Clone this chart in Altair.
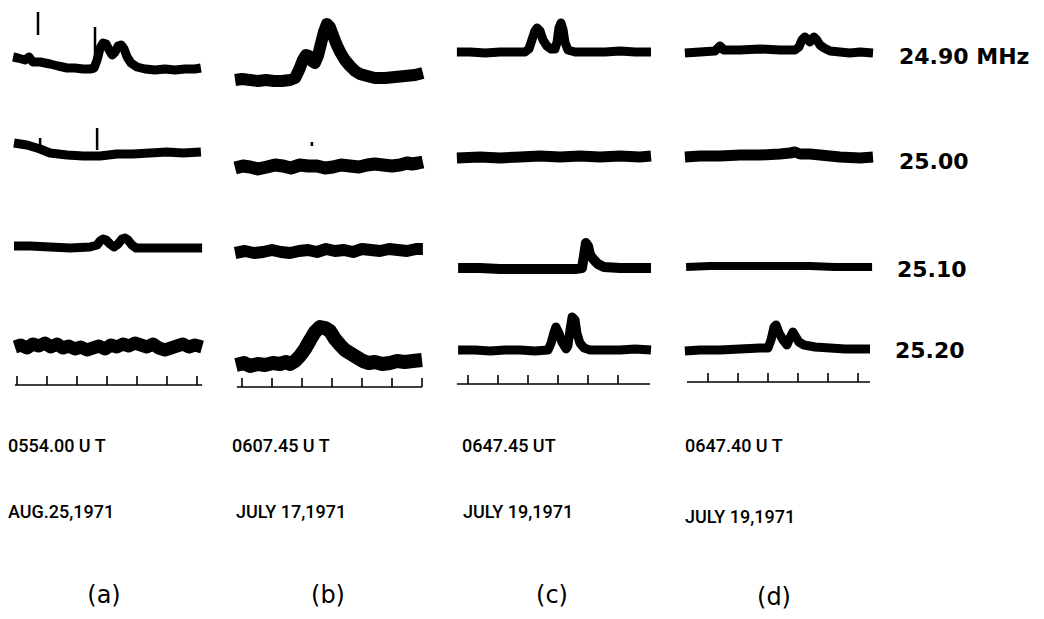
import altair as alt
import pandas as pd

# ---------------- data ----------------
# sweep time in seconds from the first time mark, deflection in record units (up = positive)
PANELS = ["a", "b", "c", "d"]
FREQS = ["24.90", "25.00", "25.10", "25.20"]
FREQ_LABELS = ["24.90 MHz", "25.00", "25.10", "25.20"]
TIME_LABELS = ["0554.00 U T", "0607.45 U T", "0647.45 UT", "0647.40 U T"]
DATE_LABELS = ["AUG.25,1971", "JULY 17,1971", "JULY 19,1971", "JULY 19,1971"]
PANEL_LABELS = ["(a)", "(b)", "(c)", "(d)"]

T_A1 = [-1.3, 0.3, 2.7, 4.0, 5.3, 7.7, 11, 13.7, 16.7, 19.3, 22, 24.3, 25.7, 26.7, 27.7, 28.7, 29.7, 30.7, 31.7, 32.7, 33.7, 34.7, 35.7, 36.7, 38, 40, 42.7, 46, 49.3, 52.7, 56, 59.3, 61.3]
V_A1 = [13, 12, 10, 13, 8, 8, 6, 4, 2, 2, 1, 1, 2, 10, 22, 27, 26, 20, 15, 18, 24, 25, 21, 13, 7, 3, 1, 0, 1, 0, 1, 1, 2]
T_B1 = [-2.3, 0, 2.7, 5.3, 8, 10.7, 13.3, 16, 17.7, 19, 20.3, 21.3, 22.3, 23.3, 24.3, 25.3, 26.3, 27.3, 28.3, 29.3, 30.3, 31.3, 32.7, 34.3, 36, 37.7, 39.3, 41.7, 44.3, 47.7, 51, 54.3, 57.7, 60.3]
V_B1 = [-10, -9, -10, -11, -10, -11, -11, -10, -8, 0, 10, 15, 14, 9, 7, 14, 26, 38, 46, 43, 35, 27, 18, 10, 4, -1, -4, -6, -8, -8, -7, -6, -5, -3]
T_C1 = [-3.7, 0.7, 5.7, 10.7, 15.7, 19, 20.3, 21.3, 22.3, 23, 24, 25, 26.3, 27.7, 29, 29.7, 30.3, 31, 31.7, 32.3, 33.3, 35.7, 40.7, 45.7, 50.7, 55.7, 61]
V_C1 = [18, 18, 17, 18, 18, 18, 21, 30, 39, 42, 39, 30, 24, 21, 21, 28, 42, 47, 40, 28, 20, 18, 18, 18, 19, 18, 18]
T_D1 = [-7.7, -2.7, 2.3, 4, 5.3, 10.7, 17.3, 24, 29, 30.3, 31.3, 32.3, 33.3, 34, 34.7, 35.3, 36.3, 37.3, 38.7, 40.7, 44, 47.3, 50.7, 55]
V_D1 = [17, 18, 19, 24, 20, 20, 21, 20, 20, 23, 30, 33, 30, 28, 31, 33, 30, 25, 22, 19, 18, 17, 18, 17]

T_A2 = [-1, 3.3, 7.7, 11, 16.7, 22, 27.7, 33.3, 38.7, 44.3, 50, 55.3, 61.3]
V_A2 = [22, 20, 16, 12, 10, 9, 9, 11, 11, 12, 13, 12, 13]
T_B2 = [-2.3, 0.3, 2.7, 5.3, 8.3, 11, 13.7, 16.3, 19.3, 22, 25, 27.7, 30.3, 33, 36, 39, 41.7, 44.3, 47, 50, 52.7, 55, 56.7, 58.7, 60.3]
V_B2 = [-3, -1, -2, -4, -2, 0, -1, -3, 0, -1, -1, -3, -2, 0, -1, -2, 0, 1, 0, -1, 0, 2, 1, 2, 3]
T_C2 = [-3.7, 4, 10.7, 17.3, 24, 30.7, 37.3, 44, 50.7, 57.3, 61]
V_C2 = [7, 8, 7, 8, 9, 8, 9, 8, 9, 8, 9]
T_D2 = [-7.7, -2.7, 4, 10.7, 17.3, 24, 27.3, 29, 30.7, 34, 37.3, 44, 50.7, 55]
V_D2 = [8, 9, 9, 10, 10, 11, 12, 13, 11, 11, 10, 8, 7, 8]

T_A3 = [-1, 4.3, 11, 17.7, 24.3, 26.7, 27.7, 28.7, 29.7, 31, 32.3, 33.7, 35, 36, 37, 38.3, 39.7, 44.3, 51, 57.7, 61.7]
V_A3 = [24, 24, 23, 22, 23, 25, 29, 31, 30, 26, 23, 26, 31, 32, 30, 25, 22, 22, 22, 22, 22]
T_B3 = [-2.3, 1, 4, 7, 10, 13, 16, 19, 22, 25, 28, 31, 34, 37, 40, 43, 46, 49, 52, 55, 58, 60.3]
V_B3 = [17, 19, 17, 18, 20, 18, 17, 19, 20, 18, 21, 19, 20, 18, 21, 20, 19, 21, 20, 19, 21, 21]
T_C3 = [-3.3, 4, 10.7, 17.3, 24, 30.7, 35.7, 38, 38.7, 39.3, 40, 40.7, 42, 43.3, 45.3, 50.7, 55.7, 61]
V_C3 = [2, 2, 1, 1, 1, 1, 1, 2, 15, 27, 24, 15, 10, 6, 3, 2, 2, 2]
T_D3 = [-7.3, 0.7, 9, 17.3, 25.7, 34, 42.3, 50.7, 54.7]
V_D3 = [3, 4, 4, 4, 4, 4, 3, 3, 3]

T_A4 = [-0.7, 1.3, 3.3, 5.3, 7.3, 9.3, 11.3, 13.3, 15.3, 17.3, 19.3, 21.3, 23.3, 25.3, 27.3, 29.3, 31.3, 33.3, 35.3, 37.3, 39.3, 41.3, 43.3, 45.3, 47.3, 49.3, 51.3, 53.3, 55.3, 57.3, 59.3, 61.7]
V_A4 = [13, 15, 12, 16, 14, 17, 13, 16, 12, 14, 11, 13, 10, 12, 14, 11, 15, 13, 16, 14, 17, 15, 13, 16, 12, 10, 12, 14, 16, 13, 15, 13]
T_B4 = [-2, 0.7, 2.7, 5.3, 7.7, 10.3, 12.7, 14.7, 16, 17.7, 19.3, 21, 22.7, 24.3, 26, 27.7, 29.3, 31, 32.7, 34.3, 37, 40.3, 42.3, 44.3, 46.7, 49.3, 51.7, 54.3, 57, 60]
V_B4 = [-5, -3, -6, -4, -5, -3, -4, -2, -4, -1, 4, 11, 20, 28, 33, 32, 29, 21, 15, 10, 5, -1, -3, -2, -4, -3, -1, -2, -1, 0]
T_C4 = [-3.3, 2.3, 7.3, 12.3, 17.3, 22.3, 26.7, 27.7, 28.7, 29.3, 30.3, 31.3, 32.7, 33.3, 34, 34.7, 35.7, 36.3, 37.3, 38.7, 40.7, 45.7, 50.7, 55.7, 61]
V_C4 = [10, 10, 9, 10, 10, 9, 10, 17, 28, 33, 27, 18, 11, 14, 30, 43, 40, 27, 17, 12, 10, 10, 10, 11, 10]
T_D4 = [-7.7, -2.7, 4, 10.7, 17.3, 20, 21, 22, 22.7, 23.7, 25, 26.3, 27.3, 28.3, 29.3, 30.3, 32, 35.7, 40.7, 45.7, 50.7, 54]
V_D4 = [9, 10, 10, 11, 12, 12, 20, 33, 35, 27, 20, 15, 22, 28, 23, 18, 15, 13, 12, 11, 11, 11]

# time marks (seconds) on the bottom scale of each panel
TICKS_AB = [0, 10, 20, 30, 40, 50, 60]
TICKS_CD = [0, 10, 20, 30, 40, 50]
# marker pulses: panel, frequency, time (s), top and bottom deflection
PULSES = [("a", "24.90", 7.0, 58, 35), ("a", "24.90", 26.0, 43, 12),
          ("a", "25.00", 26.7, 37, 15), ("a", "25.00", 7.7, 27, 18),
          ("b", "25.00", 23.3, 23, 19)]

TRACES = {
    ("a", "24.90"): (T_A1, V_A1), ("b", "24.90"): (T_B1, V_B1),
    ("c", "24.90"): (T_C1, V_C1), ("d", "24.90"): (T_D1, V_D1),
    ("a", "25.00"): (T_A2, V_A2), ("b", "25.00"): (T_B2, V_B2),
    ("c", "25.00"): (T_C2, V_C2), ("d", "25.00"): (T_D2, V_D2),
    ("a", "25.10"): (T_A3, V_A3), ("b", "25.10"): (T_B3, V_B3),
    ("c", "25.10"): (T_C3, V_C3), ("d", "25.10"): (T_D3, V_D3),
    ("a", "25.20"): (T_A4, V_A4), ("b", "25.20"): (T_B4, V_B4),
    ("c", "25.20"): (T_C4, V_C4), ("d", "25.20"): (T_D4, V_D4),
}

# ---------------- layout (page units) ----------------
W, H = 1028, 603
PX_PER_S = 3.0
COL_T0 = {"a": 17, "b": 242, "c": 468, "d": 708}
ROW_REF = {"24.90": 70, "25.00": 165, "25.10": 270, "25.20": 360}
SCALE_Y = {"a": 385, "b": 387, "c": 384, "d": 382}
SCALE_SPAN = {"a": (-0.7, 61.7), "b": (-1.7, 60), "c": (-3.7, 60.7), "d": (-7, 54)}
TICK_LEN = 9
WIDTH = {("a", "24.90"): 9, ("b", "24.90"): 12, ("c", "24.90"): 9, ("d", "24.90"): 9,
         ("a", "25.00"): 9, ("b", "25.00"): 13, ("c", "25.00"): 11, ("d", "25.00"): 11,
         ("a", "25.10"): 9, ("b", "25.10"): 12, ("c", "25.10"): 10, ("d", "25.10"): 8,
         ("a", "25.20"): 13, ("b", "25.20"): 14, ("c", "25.20"): 9, ("d", "25.20"): 9}
INK = "#000000"
LABEL_FONT = "Roboto, Liberation Sans, DejaVu Sans"

rows = []
for (p, f), (ts, vs) in TRACES.items():
    for t, v in zip(ts, vs):
        rows.append({"trace": p + f, "X": COL_T0[p] + PX_PER_S * t,
                     "Y": ROW_REF[f] - v, "w": WIDTH[(p, f)]})
traces = pd.DataFrame(rows)

tick_rows = []
for p in PANELS:
    for t in (TICKS_AB if p in "ab" else TICKS_CD):
        tick_rows.append({"X": COL_T0[p] + PX_PER_S * t, "Y": SCALE_Y[p], "Y2": SCALE_Y[p] - TICK_LEN})
ticks = pd.DataFrame(tick_rows)
base_lines = pd.DataFrame([{"X": COL_T0[p] + PX_PER_S * SCALE_SPAN[p][0],
                            "X2": COL_T0[p] + PX_PER_S * SCALE_SPAN[p][1],
                            "Y": SCALE_Y[p]} for p in PANELS])
pulses = pd.DataFrame([{"X": COL_T0[p] + PX_PER_S * t, "Y": ROW_REF[f] - top,
                        "Y2": ROW_REF[f] - bot} for p, f, t, top, bot in PULSES])

freq_pos = [(899, 57), (899, 162), (897, 270), (895, 351)]
freq_df = pd.DataFrame([{"X": x, "Y": y, "text": s} for s, (x, y) in zip(FREQ_LABELS, freq_pos)])
time_pos = [(8, 447), (232, 447), (462, 447), (685, 447)]
date_pos = [(8, 513), (236, 513), (463, 513), (685, 518)]
letter_pos = [(104, 596), (328, 596), (552, 596), (774, 598)]
time_df = pd.DataFrame([{"X": x, "Y": y, "text": s} for s, (x, y) in zip(TIME_LABELS, time_pos)])
date_df = pd.DataFrame([{"X": x, "Y": y, "text": s} for s, (x, y) in zip(DATE_LABELS, date_pos)])
letter_df = pd.DataFrame([{"X": x, "Y": y, "text": s} for s, (x, y) in zip(PANEL_LABELS, letter_pos)])

xs = alt.Scale(domain=[8, 8 + W])
ys = alt.Scale(domain=[8, 8 + H], reverse=True)
X = alt.X("X:Q", scale=xs, axis=None)
Y = alt.Y("Y:Q", scale=ys, axis=None)

trace_layer = alt.Chart(traces).mark_line(color=INK, strokeJoin="round", strokeCap="butt").encode(
    x=X, y=Y, detail="trace:N", strokeWidth=alt.StrokeWidth("w:Q", scale=None), order="X:Q")
tick_layer = alt.Chart(ticks).mark_rule(color=INK, strokeWidth=1.6).encode(x=X, y=Y, y2="Y2:Q")
base_layer = alt.Chart(base_lines).mark_rule(color=INK, strokeWidth=1.6).encode(x=X, x2="X2:Q", y=Y)
pulse_layer = alt.Chart(pulses).mark_rule(color=INK, strokeWidth=2.5).encode(x=X, y=Y, y2="Y2:Q")

freq_layer = alt.Chart(freq_df).mark_text(align="left", baseline="middle", font="DejaVu Sans",
                                          fontWeight="bold", fontSize=22, color=INK).encode(x=X, y=Y, text="text:N")
time_layer = alt.Chart(time_df).mark_text(align="left", baseline="middle", font=LABEL_FONT,
                                          fontWeight=500, fontSize=18, color=INK).encode(x=X, y=Y, text="text:N")
date_layer = alt.Chart(date_df).mark_text(align="left", baseline="middle", font=LABEL_FONT,
                                          fontWeight=500, fontSize=18, color=INK).encode(x=X, y=Y, text="text:N")
letter_layer = alt.Chart(letter_df).mark_text(align="center", baseline="middle", font="DejaVu Sans",
                                              fontSize=24, color=INK).encode(x=X, y=Y, text="text:N")

chart = alt.layer(trace_layer, base_layer, tick_layer, pulse_layer,
                  freq_layer, time_layer, date_layer, letter_layer).properties(
    width=W, height=H, autosize=alt.AutoSizeParams(type="none"), padding=0,
    background="white").configure_view(strokeWidth=0)

chart.save("out.html", embed_options={"renderer": "svg", "actions": False})
